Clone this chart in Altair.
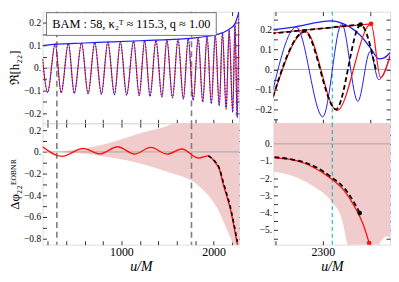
import altair as alt
import pandas as pd

FONT = "Liberation Serif"
RED = "#ff1010"
BLUE = "#2020f0"
PINK = "#f1cccc"
GRAY = "#7f7f7f"
CYAN = "#00b0b0"

# ---------------- top-left: Re h22 (extrema)
wave_u = [145, 200, 282, 347, 425, 489, 568, 639, 711, 783, 853, 925, 989, 1057, 1132, 1193, 1252, 1311,
          1375, 1439, 1493, 1554, 1614, 1672, 1725, 1779, 1833, 1882, 1929, 1975, 2018, 2061, 2096, 2136,
          2168, 2207, 2232, 2255, 2275]
wave_v = [0.04, -0.108, 0.107, -0.110, 0.109, -0.112, 0.111, -0.114, 0.113, -0.116, 0.115, -0.118, 0.117,
          -0.120, 0.119, -0.122, 0.121, -0.125, 0.123, -0.128, 0.125, -0.132, 0.128, -0.137, 0.131, -0.143,
          0.135, -0.150, 0.140, -0.158, 0.146, -0.168, 0.155, -0.182, 0.168, -0.196, 0.195, -0.22, 0.245]
amp_u = [145, 300, 600, 900, 1200, 1500, 1800, 1950, 2100, 2168, 2232, 2254, 2275]
amp_v = [0.100, 0.106, 0.111, 0.116, 0.121, 0.126, 0.134, 0.142, 0.157, 0.172, 0.197, 0.222, 0.25]

# ---------------- bottom-left: phase difference
dphi_u = [145, 354, 586, 765, 961, 1142, 1318, 1496, 1656, 1836, 1943, 2011, 2064, 2108, 2143, 2179, 2214, 2257, 2280]
dphi_v = [0.048, -0.041, 0.033, -0.018, 0.048, -0.02, 0.042, -0.02, 0.027, -0.057, -0.036, -0.09, -0.165,
          -0.31, -0.41, -0.52, -0.66, -0.85, -0.95]
dphi2_u = [1943, 2011, 2064, 2108, 2143, 2179, 2214, 2257]
dphi2_v = [-0.036, -0.085, -0.155, -0.29, -0.39, -0.50, -0.64, -0.83]
band_u = [145, 300, 480, 586, 837, 1195, 1552, 1750, 1860, 2040, 2150, 2210, 2275]
band_lo = [-0.005, 0.0, -0.01, -0.015, -0.045, -0.105, -0.20, -0.26, -0.33, -0.52, -0.73, -0.85, -1.0]
band_hi = [0.005, 0.0, 0.018, 0.03, 0.075, 0.17, 0.26, 0.36, 0.45, 0.65, 0.85, 1.0, 1.2]
marks_left = [300, 1760]

# ---------------- top-right: zoom near merger
benv_u = [2245, 2272, 2295, 2309, 2322, 2339, 2352, 2359, 2364, 2372]
benv_v = [0.198, 0.215, 0.236, 0.244, 0.229, 0.174, 0.097, 0.053, 0.057, 0.089]
bosc_u = [2245, 2272, 2300, 2320, 2337, 2350, 2359, 2372]
bosc_v = [-0.153, 0.213, -0.238, 0.229, -0.16, 0.09, -0.051, 0.08]
rosc_u = [2245, 2282, 2315, 2351, 2361, 2371]
rosc_v = [-0.176, 0.19, -0.207, 0.229, -0.04, 0.07]
renv_u = [2245, 2351]
renv_v = [0.182, 0.229]
kosc_u = [2245, 2281, 2314, 2340, 2356]
kosc_v = [-0.176, 0.19, -0.2, 0.224, 0.0]
kenv_u = [2245, 2340]
kenv_v = [0.180, 0.226]
marks_right = [2310]

# ---------------- bottom-right
rb_band_u = [2248, 2270, 2290, 2310, 2320, 2326, 2330, 2356, 2360, 2364, 2368, 2372]
rb_band_lo = [-1.61, -1.9, -2.47, -3.41, -4.36, -5.9, -7.0, -7.0, -5.88, -5.5, -5.4, -5.5]
rb_red_u = [2249, 2270, 2290, 2310, 2323, 2333, 2343, 2349]
rb_red_v = [-0.82, -0.95, -1.36, -2.08, -2.75, -3.6, -4.74, -5.78]
rb_blk_u = [2249, 2290, 2310, 2323, 2333, 2339]
rb_blk_v = [-0.77, -1.28, -1.98, -2.6, -3.41, -4.03]

XL = [145, 2275]
XR = [2248, 2371]
Y_TL = [-0.245, 0.25]
Y_BL = [-0.857, 0.265]
Y_TR = [-0.27, 0.29]
Y_BR = [-5.87, 1.2]

WL, WR, HT, HB = 199, 118, 113, 123


def df(u, v):
    return pd.DataFrame({"u": u, "v": v})


def axis(orient, values, expr=None, labels=True, size=10, title=None, tsize=13, italic=False):
    kw = dict(orient=orient, values=values, offset=-4, tickSize=4, tickColor="black", tickWidth=0.8,
              domain=False, grid=False, labels=labels, labelFont=FONT, labelFontSize=size,
              labelColor="black", labelPadding=2, titleFont=FONT, titleFontSize=tsize,
              titleFontWeight="normal", titleColor="black", titlePadding=2)
    if expr is not None:
        kw["labelExpr"] = expr
    if title is not None:
        kw["title"] = title
    if italic:
        kw["titleFontStyle"] = "italic"
    return alt.Axis(**kw)


def X(dom, ax=None):
    if ax is None:
        return alt.X("u:Q", scale=alt.Scale(domain=dom, nice=False, zero=False), axis=None, title=None)
    return alt.X("u:Q", scale=alt.Scale(domain=dom, nice=False, zero=False), axis=ax, title=ax.title if ax.title is not alt.Undefined else None)


def Y(dom, field="v", ax=None):
    if ax is None:
        return alt.Y(f"{field}:Q", scale=alt.Scale(domain=dom, nice=False, zero=False), axis=None, title=None)
    return alt.Y(f"{field}:Q", scale=alt.Scale(domain=dom, nice=False, zero=False), axis=ax, title=ax.title if ax.title is not alt.Undefined else None)


def line(d, xd, yd, color, width=1.0, dash=None):
    kw = dict(color=color, strokeWidth=width, interpolate="monotone", clip=True)
    if dash is not None:
        kw["strokeDash"] = dash
    return alt.Chart(d).mark_line(**kw).encode(x=X(xd), y=Y(yd))


def frame(xd, yd, xv, yv, xexpr, yexpr, xlabels, ytitle=None, xtitle=None, ysize=9.5):
    zero = df(xd, [0, 0])
    a = alt.Chart(zero).mark_line(color="#999999", strokeWidth=0.8, clip=True).encode(
        x=X(xd, axis("bottom", xv, xexpr, labels=xlabels, size=12, title=xtitle, tsize=14, italic=True)),
        y=Y(yd, ax=axis("left", yv, yexpr, size=ysize, title=ytitle)),
    )
    b = alt.Chart(zero).mark_line(opacity=0).encode(
        x=X(xd, axis("top", xv, labels=False)),
        y=Y(yd, ax=axis("right", yv, labels=False)),
    )
    return a, b


def vrules(vals, xd, color, dash, width):
    return alt.Chart(pd.DataFrame({"u": vals})).mark_rule(color=color, strokeDash=dash, strokeWidth=width).encode(x=X(xd))


def dot(u, v, xd, yd, color):
    return alt.Chart(df([u], [v])).mark_point(filled=True, color=color, size=22, opacity=1, clip=True).encode(x=X(xd), y=Y(yd))


def finish(layers, w, h):
    return alt.layer(*layers).resolve_axis(x="independent", y="independent").properties(width=w, height=h)


ylab1 = "abs(datum.value*10 - round(datum.value*10)) > 0.01 ? '' : (abs(datum.value) < 1e-9 ? '0.' : format(datum.value, '.1f'))"
ylab2 = "abs(datum.value*5 - round(datum.value*5)) > 0.01 ? '' : (abs(datum.value) < 1e-9 ? '0.' : format(datum.value, '.1f'))"
ylab3 = "abs(datum.value - round(datum.value)) > 0.01 || datum.value > 0.5 ? '' : (abs(datum.value) < 1e-9 ? '0.' : '\u2212' + format(-datum.value, 'd') + '.')"
xlabL = "datum.value == 1000 || datum.value == 2000 ? format(datum.value, 'd') : ''"
xlabR = "datum.value == 2300 ? '2300' : ''"

xvL = list(range(200, 2201, 200))
xvR = [2250, 2300, 2350]
yvTL = [-0.2, -0.15, -0.1, -0.05, 0, 0.05, 0.1, 0.15, 0.2]
yvBL = [-0.8, -0.7, -0.6, -0.5, -0.4, -0.3, -0.2, -0.1, 0, 0.1, 0.2]
yvTR = [-0.25, -0.2, -0.15, -0.1, -0.05, 0, 0.05, 0.1, 0.15, 0.2, 0.25]
yvBR = [-5.5, -5, -4.5, -4, -3.5, -3, -2.5, -2, -1.5, -1, -0.5, 0, 0.5, 1.0]

# ---- top-left panel
a, b = frame(XL, Y_TL, xvL, yvTL, None, ylab1, False, ytitle="\u211c[h\u2082\u2082]")
box = alt.Chart(pd.DataFrame({"k": [0]})).mark_rect(fill="white", stroke="#555555", strokeWidth=0.8).encode(
    x=alt.value(4), x2=alt.value(176), y=alt.value(1), y2=alt.value(24))
boxtxt = alt.Chart(pd.DataFrame({"k": [0]})).mark_text(
    text="BAM : 58,  \u03ba\u2082\u1d40 \u2248 115.3,  q \u2248 1.00", font=FONT, fontSize=12.5, color="black"
).encode(x=alt.value(90), y=alt.value(13))
tl = finish([
    a,
    vrules(marks_left, XL, GRAY, [6, 4], 1.6),
    line(df(wave_u, wave_v), XL, Y_TL, RED, 1.1),
    line(df(wave_u, wave_v), XL, Y_TL, BLUE, 1.1, [1.5, 1.5]),
    line(df(amp_u, amp_v), XL, Y_TL, BLUE, 1.2),
    box, boxtxt, b,
], WL, HT)

# ---- bottom-left panel
a, b = frame(XL, Y_BL, xvL, yvBL, xlabL, ylab2, True, ytitle="\u0394\u03c6\u2082\u2082\u1d31\u1d3c\u1d2e\u1d3a\u1d3f", xtitle="u/M")
band = alt.Chart(pd.DataFrame({"u": band_u, "lo": band_lo, "hi": band_hi})).mark_area(
    color=PINK, opacity=1, interpolate="monotone", clip=True).encode(
    x=X(XL), y=Y(Y_BL, "lo"), y2="hi:Q")
bl = finish([
    band, a,
    vrules(marks_left, XL, GRAY, [6, 4], 1.6),
    line(df(dphi_u, dphi_v), XL, Y_BL, RED, 1.4),
    line(df(dphi2_u, dphi2_v), XL, Y_BL, "black", 1.6, [4, 3]),
    b,
], WL, HB)

# ---- top-right panel
a, b = frame(XR, Y_TR, xvR, yvTR, None, ylab1, False)
tr = finish([
    a,
    vrules(marks_right, XR, CYAN, [4, 3], 1.0),
    line(df(benv_u, benv_v), XR, Y_TR, BLUE, 1.3),
    line(df(bosc_u, bosc_v), XR, Y_TR, BLUE, 1.0),
    line(df(rosc_u, rosc_v), XR, Y_TR, RED, 1.2),
    line(df(renv_u, renv_v), XR, Y_TR, RED, 1.2),
    line(df(kosc_u, kosc_v), XR, Y_TR, "black", 1.8, [5, 3]),
    line(df(kenv_u, kenv_v), XR, Y_TR, "black", 1.8, [5, 3]),
    dot(renv_u[-1], renv_v[-1], XR, Y_TR, RED),
    dot(kenv_u[-1], kenv_v[-1], XR, Y_TR, "black"),
    b,
], WR, HT)

# ---- bottom-right panel
a, b = frame(XR, Y_BR, xvR, yvBR, xlabR, ylab3, True, xtitle="u/M")
rband = alt.Chart(pd.DataFrame({"u": rb_band_u, "lo": rb_band_lo, "hi": [2.0] * len(rb_band_u)})).mark_area(
    color=PINK, opacity=1, interpolate="monotone", clip=True).encode(
    x=X(XR), y=Y(Y_BR, "lo"), y2="hi:Q")
br = finish([
    rband, a,
    vrules(marks_right, XR, CYAN, [4, 3], 1.0),
    line(df(rb_red_u, rb_red_v), XR, Y_BR, RED, 1.3),
    line(df(rb_blk_u, rb_blk_v), XR, Y_BR, "black", 1.8, [5, 3]),
    dot(rb_red_u[-1], rb_red_v[-1], XR, Y_BR, RED),
    dot(rb_blk_u[-1], rb_blk_v[-1], XR, Y_BR, "black"),
    b,
], WR, HB)

left = alt.vconcat(tl, bl, spacing=0, bounds="flush")
right = alt.vconcat(tr, br, spacing=0, bounds="flush")
chart = alt.hconcat(left, right, spacing=14).properties(padding=0).configure_view(
    stroke="black", strokeWidth=1.2).configure(background="white")

chart.save("out.html", embed_options={"renderer": "svg", "actions": False})
